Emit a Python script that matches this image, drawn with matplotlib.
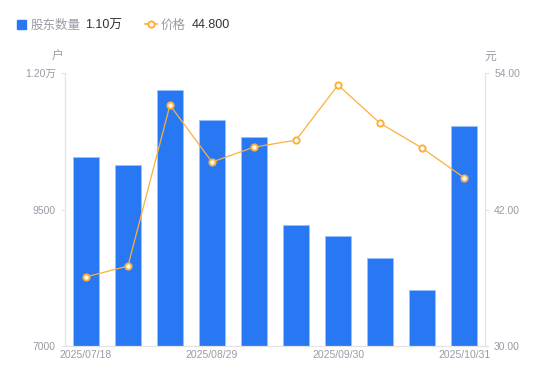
import matplotlib.pyplot as plt
from matplotlib.lines import Line2D
from matplotlib.patches import Rectangle

plt.rcParams['font.family'] = ['Liberation Sans', 'Noto Sans CJK SC', 'DejaVu Sans']

dates = ['2025/07/18', '2025/07/31', '2025/08/15', '2025/08/29', '2025/09/10',
         '2025/09/19', '2025/09/30', '2025/10/10', '2025/10/20', '2025/10/31']
holders = [10460, 10315, 11690, 11140, 10830, 9215, 9015, 8610, 8025, 11030]
prices = [36.07, 37.03, 51.19, 46.18, 47.49, 48.11, 52.95, 49.60, 47.41, 44.80]
shown_dates = ['2025/07/18', '2025/08/29', '2025/09/30', '2025/10/31']

blue = '#2878f4'
orange = '#fbb03b'
grey = '#9a9aa6'
axis_grey = '#e3e3e8'

fig = plt.figure(figsize=(5.5, 3.81), dpi=100)
ax = fig.add_axes([0.118, 0.092, 0.764, 0.716])
ax2 = ax.twinx()

x = list(range(len(dates)))
ax.bar(x, holders, width=0.6, color=blue, edgecolor='#9cc2fa', linewidth=0.6, zorder=2)
ax.set_xlim(-0.5, len(dates) - 0.5)
ax.set_ylim(7000, 12000)
ax.set_yticks([7000, 9500, 12000])
ax.set_yticklabels(['7000', '9500', '1.20万'])

ax2.plot(x, prices, color=orange, linewidth=0.9, marker='o', markersize=4.5,
         markerfacecolor='white', markeredgecolor=orange, markeredgewidth=1.4, zorder=3)
ax2.set_ylim(30, 54)
ax2.set_yticks([30, 42, 54])
ax2.set_yticklabels(['30.00', '42.00', '54.00'])

ax.set_xticks([dates.index(d) for d in shown_dates])
ax.set_xticklabels(shown_dates)

for a in (ax, ax2):
    for s in a.spines.values():
        s.set_color(axis_grey)
    a.spines['top'].set_visible(False)
    a.tick_params(colors=grey, labelsize=7.5, length=3, width=0.8)
    a.tick_params(axis='y', color=axis_grey)
ax.tick_params(axis='x', length=0, pad=3)

fig.text(58 / 550, 1 - 57 / 381, '户', color=grey, fontsize=8.5, ha='center', va='center')
fig.text(490 / 550, 1 - 57 / 381, '元', color=grey, fontsize=8.5, ha='center', va='center')

# legend row
ly = 1 - 24 / 381
ty = 1 - 25.5 / 381
fig.patches.append(Rectangle((17 / 550, 1 - 29 / 381), 9 / 550, 9 / 381,
                             transform=fig.transFigure, color=blue, figure=fig))
fig.text(31 / 550, ty, '股东数量', color=grey, fontsize=9, va='center')
fig.text(85 / 550, ty, '1.10万', color='#333333', fontsize=9, va='center')
fig.add_artist(Line2D([145 / 550, 157 / 550], [ly, ly], transform=fig.transFigure,
                      color=orange, linewidth=1.2))
fig.add_artist(Line2D([151 / 550], [ly], transform=fig.transFigure, marker='o',
                      markersize=4.5, markerfacecolor='white', markeredgecolor=orange,
                      markeredgewidth=1.4))
fig.text(161 / 550, ty, '价格', color=grey, fontsize=9, va='center')
fig.text(192 / 550, ty, '44.800', color='#333333', fontsize=9, va='center')

fig.savefig('out.png', dpi=100)
